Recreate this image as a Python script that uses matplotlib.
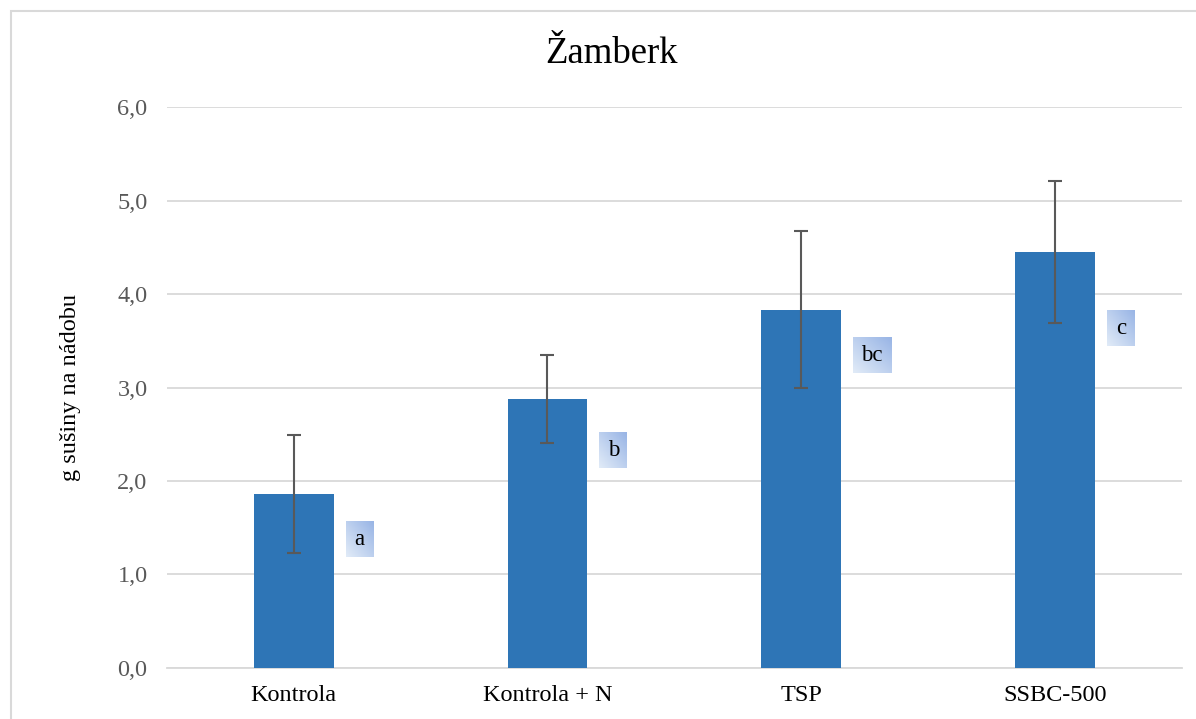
import numpy as np
import matplotlib.pyplot as plt
from matplotlib.patches import Rectangle

plt.rcParams['font.family'] = ['Liberation Serif', 'DejaVu Serif']

# data
categories = ['Kontrola', 'Kontrola + N', 'TSP', 'SSBC-500']
means = [1.86, 2.88, 3.83, 4.45]
errors = [0.63, 0.47, 0.84, 0.76]
letters = ['a', 'b', 'bc', 'c']
letter_y = [1.37, 2.33, 3.34, 3.63]   # centre of the letter boxes
yticks = [0, 1, 2, 3, 4, 5, 6]

fig = plt.figure(figsize=(11.96, 7.19), dpi=100)
ax = fig.add_axes([0.1396, 0.071, 0.8484, 0.78])

x = np.arange(len(categories))
ax.bar(x, means, width=0.315, color='#2E75B6', zorder=3)
ax.errorbar(x, means, yerr=errors, fmt='none', ecolor='#595959',
            elinewidth=1.5, capsize=5, capthick=1.5, zorder=4)

# gradient boxes with significance letters
grad = np.zeros((20, 20, 3))
c_dark = np.array([0.60, 0.71, 0.90])
c_light = np.array([0.88, 0.92, 0.97])
for i in range(20):
    for j in range(20):
        t = (j + (19 - i)) / 38.0   # top-right dark, bottom-left light
        grad[i, j] = c_light * (1 - t) + c_dark * t
for xi, lab, ly in zip(x, letters, letter_y):
    w = 0.11 if len(lab) == 1 else 0.15
    h = 0.375
    x0 = xi + 0.205
    ax.imshow(grad, extent=[x0, x0 + w, ly - h / 2, ly + h / 2],
              aspect='auto', zorder=5, interpolation='bilinear')
    ax.text(x0 + w / 2, ly, lab, ha='center', va='center',
            fontsize=16.5, color='black', zorder=6)

ax.set_xlim(-0.5, len(categories) - 0.5)
ax.set_ylim(0, 6)
ax.set_yticks(yticks)
ax.set_yticklabels(['%d,0' % v for v in yticks], fontsize=17.5, color='#595959')
ax.set_xticks(x)
ax.set_xticklabels(categories, fontsize=17.5, color='black')
ax.tick_params(length=0, pad=12)
ax.tick_params(axis='y', pad=14)
ax.grid(axis='y', color='#d9d9d9', linewidth=1.3, zorder=0)
for s in ['top', 'right', 'left']:
    ax.spines[s].set_visible(False)
ax.spines['bottom'].set_color('#d9d9d9')
ax.spines['bottom'].set_linewidth(1.3)

ax.set_ylabel('g sušiny na nádobu', fontsize=17.5, labelpad=26)
fig.text(0.511, 0.925, 'Žamberk', ha='center', va='center', fontsize=26.5)

# chart border
fig.patches.append(Rectangle((11 / 1196, -0.01), 1.02, 1 - 11 / 719 + 0.01,
                             transform=fig.transFigure, fill=False,
                             edgecolor='#d9d9d9', linewidth=1.5))

fig.savefig('out.png', dpi=100)
